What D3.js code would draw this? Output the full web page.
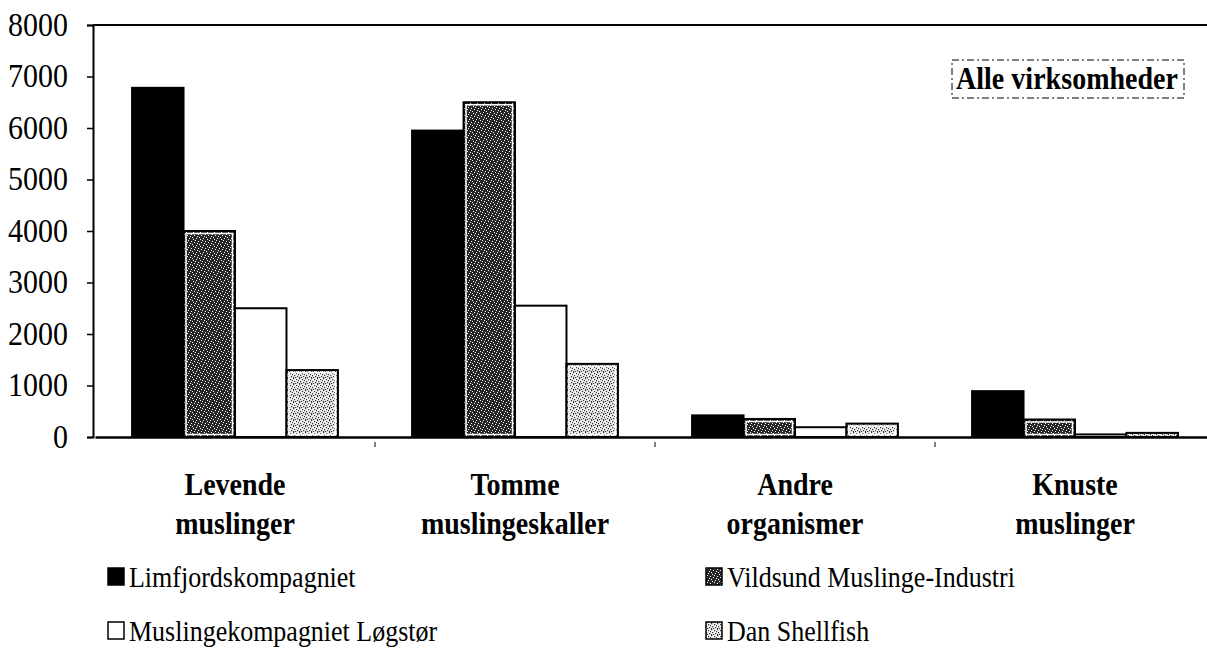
<!DOCTYPE html>
<html>
<head>
<meta charset="utf-8">
<script src="https://cdn.jsdelivr.net/npm/d3@7"></script>
<style>
  body { margin: 0; background: #fff; }
  svg { display: block; }
  text { font-family: "Liberation Serif", "Times New Roman", serif; fill: #000; }
</style>
</head>
<body>
<div class="wrapper"></div>
<script>
// categories and series
const categories = [["Levende", "muslinger"], ["Tomme", "muslingeskaller"], ["Andre", "organismer"], ["Knuste", "muslinger"]];
const seriesNames = ["Limfjordskompagniet", "Vildsund Muslinge-Industri", "Muslingekompagniet Løgstør", "Dan Shellfish"];
const limfjord = [6780, 5950, 420, 890];
const vildsund = [4000, 6500, 350, 340];
const logstor = [2500, 2550, 190, 50];
const danShellfish = [1300, 1420, 260, 80];
const yTicks = [0, 1000, 2000, 3000, 4000, 5000, 6000, 7000, 8000];
const boxTitle = "Alle virksomheder";

const allSeries = [limfjord, vildsund, logstor, danShellfish];
const width = 1207, height = 654;
const stretch = 1.15; // scan is a bit taller than wide

let svg = d3.select(".wrapper")
.append("svg")
.attr("width", width)
.attr("height", height);

let defs = svg.append("defs");

// dark stipple for Vildsund
let pDark = defs.append("pattern")
.attr("id", "darkDots")
.attr("width", 7).attr("height", 7)
.attr("patternUnits", "userSpaceOnUse");
pDark.append("rect").attr("width", 7).attr("height", 7).attr("fill", "#262626");
[[0,1],[3,0],[5,3],[1,4],[4,5],[6,6],[2,2]].forEach(p => {
  pDark.append("rect").attr("x", p[0]).attr("y", p[1]).attr("width", 1).attr("height", 1).attr("fill", "#fff");
});

// light stipple for Dan Shellfish
let pLight = defs.append("pattern")
.attr("id", "lightDots")
.attr("width", 6).attr("height", 6)
.attr("patternUnits", "userSpaceOnUse");
pLight.append("rect").attr("width", 6).attr("height", 6).attr("fill", "#f2f2f2");
[[0,0],[3,1],[1,3],[4,4],[2,5],[5,2],[0,5]].forEach(p => {
  pLight.append("rect").attr("x", p[0]).attr("y", p[1]).attr("width", 1.2).attr("height", 1.2).attr("fill", "#333");
});

const fills = ["#000", "url(#darkDots)", "#fff", "url(#lightDots)"];
const framed = [false, true, false, true];

let y = d3.scaleLinear()
.domain([0, 8000])
.range([437, 25]);

let x0 = d3.scaleBand()
.domain(d3.range(categories.length))
.range([95, 1215])
.padding(0);

let x1 = d3.scaleBand()
.domain(d3.range(seriesNames.length))
.range([0, x0.bandwidth()])
.paddingInner(0)
.paddingOuter(0.72);

// frame top line
svg.append("line")
.attr("x1", 93).attr("x2", width)
.attr("y1", y(8000)).attr("y2", y(8000))
.attr("stroke", "#000").attr("stroke-width", 2);

// bars
let groups = svg.selectAll("g.cat")
.data(categories)
.enter()
.append("g")
.attr("class", "cat")
.attr("transform", (d, i) => `translate(${x0(i)},0)`);

groups.each(function(c, ci) {
  let g = d3.select(this);
  allSeries.forEach((s, si) => {
    let bx = x1(si), bw = x1.bandwidth();
    let by = y(s[ci]), bh = y(0) - y(s[ci]);
    g.append("rect")
    .attr("x", bx).attr("y", by)
    .attr("width", bw).attr("height", bh)
    .attr("fill", fills[si])
    .attr("stroke", "#000")
    .attr("stroke-width", 2);
    if (framed[si] && bh > 6) {
      g.append("rect")
      .attr("x", bx + 2.5).attr("y", by + 2.5)
      .attr("width", bw - 5).attr("height", bh - 5)
      .attr("fill", "none")
      .attr("stroke", "#fff")
      .attr("stroke-width", 1.5);
    }
  });
});

// y axis
let yAxis = svg.append("g")
.attr("transform", "translate(93,0)")
.call(d3.axisLeft(y).tickValues(yTicks).tickSize(6).tickFormat(d3.format("d")));
yAxis.select(".domain").attr("stroke-width", 2);
yAxis.selectAll(".tick line").attr("stroke-width", 1.5);
yAxis.selectAll(".tick text")
.attr("x", null)
.attr("dy", null)
.attr("text-anchor", "end")
.attr("transform", `translate(-25,10) scale(1,${stretch})`)
.attr("font-size", 30)
.style("font-family", "'Liberation Serif', serif");

// x axis
let xAxis = svg.append("g")
.attr("transform", `translate(0,${y(0)})`)
.call(d3.axisBottom(x0).tickSize(0).tickFormat(""));
xAxis.select(".domain").attr("stroke-width", 2.5);
svg.selectAll("line.sep")
.data(d3.range(1, categories.length))
.enter()
.append("line")
.attr("class", "sep")
.attr("x1", i => x0(i)).attr("x2", i => x0(i))
.attr("y1", y(0) + 5).attr("y2", y(0) + 10)
.attr("stroke", "#000");

// category labels
let catLabels = svg.selectAll("g.catlabel")
.data(categories)
.enter()
.append("g")
.attr("class", "catlabel")
.attr("transform", (d, i) => `translate(${x0(i) + x0.bandwidth() / 2},0)`);

catLabels.each(function(c) {
  let g = d3.select(this);
  c.forEach((line, li) => {
    g.append("text")
    .attr("transform", `translate(0,${495 + li * 39}) scale(1,${stretch})`)
    .attr("text-anchor", "middle")
    .attr("font-size", 28)
    .attr("font-weight", "bold")
    .text(line);
  });
});

// title box
svg.append("rect")
.attr("x", 952).attr("y", 60)
.attr("width", 232).attr("height", 38)
.attr("fill", "#fff")
.attr("stroke", "#000")
.attr("stroke-width", 1)
.attr("stroke-dasharray", "7,3,2,3");
svg.append("text")
.attr("transform", `translate(956,89) scale(1,${stretch})`)
.attr("font-size", 28)
.attr("font-weight", "bold")
.attr("textLength", 222)
.text(boxTitle);

// legend
const legendPos = [[107, 587], [705, 587], [107, 641], [705, 641]];
let legend = svg.selectAll("g.legend")
.data(seriesNames)
.enter()
.append("g")
.attr("class", "legend")
.attr("transform", (d, i) => `translate(${legendPos[i][0]},${legendPos[i][1]})`);

legend.append("rect")
.attr("x", 1).attr("y", -19)
.attr("width", 16).attr("height", 17)
.attr("fill", (d, i) => fills[i])
.attr("stroke", "#000")
.attr("stroke-width", 1.5);

legend.append("text")
.attr("transform", `translate(22,0) scale(1,${stretch})`)
.attr("font-size", 26)
.text(d => d);
</script>
</body>
</html>
